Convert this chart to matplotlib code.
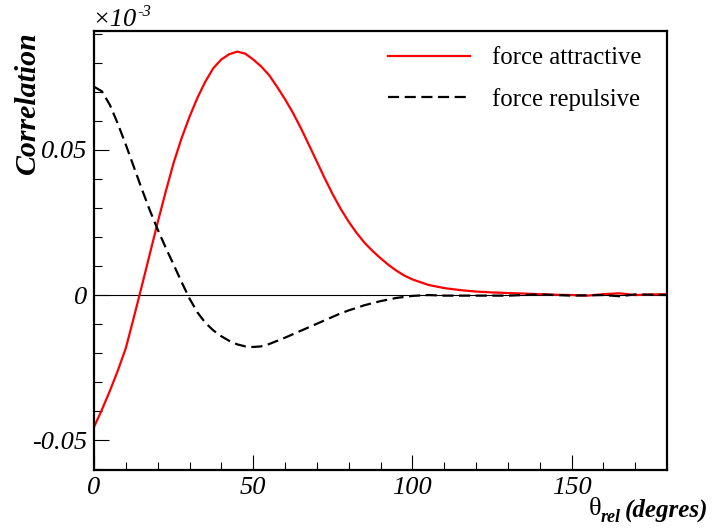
import matplotlib
matplotlib.use("Agg")
import matplotlib.pyplot as plt
from matplotlib.ticker import FixedLocator, MultipleLocator

plt.rcParams["font.family"] = ["Liberation Serif", "DejaVu Serif"]
plt.rcParams["axes.unicode_minus"] = False

# values (in units of 1e-3)
theta_att = [0, 2.5, 5, 7.5, 10, 12.5, 15, 17.5, 20, 22.5, 25, 27.5, 30, 32.5, 35,
             37.5, 40, 42.5, 45, 47.5, 50, 52.5, 55, 57.5, 60, 62.5, 65, 67.5, 70,
             72.5, 75, 77.5, 80, 82.5, 85, 87.5, 90, 92.5, 95, 97.5, 100, 105, 110,
             115, 120, 125, 130, 135, 140, 145, 150, 155, 160, 165, 170, 175, 180]
corr_att = [-0.0455, -0.0395, -0.033, -0.026, -0.0183, -0.0078, 0.003, 0.014,
            0.025, 0.0355, 0.0455, 0.054, 0.0614, 0.068, 0.0736, 0.0782, 0.0812,
            0.083, 0.0839, 0.0832, 0.0812, 0.0788, 0.0758, 0.0718, 0.0675, 0.0628,
            0.0575, 0.0518, 0.046, 0.0402, 0.0347, 0.0297, 0.0253, 0.0214, 0.018,
            0.0152, 0.0127, 0.0104, 0.0084, 0.0067, 0.0054, 0.0035, 0.0024, 0.0017,
            0.0012, 0.0009, 0.0007, 0.0005, 0.0003, 0.0001, 0.0, -0.0002, 0.0003,
            0.0006, 0.0, 0.0002, 0.0003]

theta_rep = [0, 2.5, 5, 7.5, 10, 12.5, 15, 17.5, 20, 22.5, 25, 27.5, 30, 32.5, 35,
             37.5, 40, 42.5, 45, 47.5, 50, 52.5, 55, 57.5, 60, 62.5, 65, 67.5, 70,
             72.5, 75, 77.5, 80, 85, 90, 95, 100, 105, 110, 120, 130, 140, 150, 160,
             165, 170, 180]
corr_rep = [0.0718, 0.0702, 0.0655, 0.059, 0.0518, 0.0442, 0.0366, 0.0293, 0.0226,
            0.0164, 0.0105, 0.0045, -0.0012, -0.006, -0.0096, -0.0122, -0.0142,
            -0.0158, -0.017, -0.0177, -0.0179, -0.0177, -0.0169, -0.0158, -0.0147,
            -0.0135, -0.0123, -0.0111, -0.0099, -0.0087, -0.0075, -0.0063, -0.0053,
            -0.0035, -0.0021, -0.001, -0.0003, 0.0, -0.0002, -0.0002, -0.0002,
            0.0002, -0.0002, 0.0, -0.0004, 0.0002, 0.0]

xticks = [0, 50, 100, 150]
xticklabels = ["0", "50", "100", "150"]
yticks = [-0.05, 0, 0.05]
yticklabels = ["-0.05", "0", "0.05"]

W, H = 713, 530
fig = plt.figure(figsize=(W / 100, H / 100), dpi=100)
ax = fig.add_axes([94 / W, 1 - 470 / H, (667 - 94) / W, (470 - 31) / H])

ax.axhline(0, color="black", lw=0.8)
ax.plot(theta_att, corr_att, color="red", lw=1.6, label="force attractive")
ax.plot(theta_rep, corr_rep, color="black", lw=1.6, dashes=(5, 2.5),
        label="force repulsive")

ax.set_xlim(0, 180)
ax.set_ylim(-0.0603, 0.091)

ax.xaxis.set_major_locator(FixedLocator(xticks))
ax.set_xticklabels(xticklabels)
ax.xaxis.set_minor_locator(MultipleLocator(10))
ax.yaxis.set_major_locator(FixedLocator(yticks))
ax.set_yticklabels(yticklabels)
ax.yaxis.set_minor_locator(MultipleLocator(0.01))

ax.tick_params(which="both", direction="in", width=0.8, top=False, right=False,
               labelsize=19)
ax.tick_params(which="major", length=11, pad=5)
ax.tick_params(which="minor", length=6)
for lab in ax.get_xticklabels() + ax.get_yticklabels():
    lab.set_fontstyle("italic")
for s in ax.spines.values():
    s.set_linewidth(1.6)

ax.legend(loc="upper left", bbox_to_anchor=((388 - 94) / 573, (470 - 47) / 439),
          frameon=False, fontsize=17.8, handlelength=3.3, handletextpad=0.9,
          labelspacing=0.75, borderpad=0, borderaxespad=0)

# y label and exponent
fig.text(27 / W, 1 - 31 / H, "Correlation", rotation=90, ha="center", va="top",
         fontsize=21.5, fontweight="bold", fontstyle="italic")
fig.text(92 / W, 1 - 20 / H, "×10", ha="left", va="center", fontsize=19,
         fontstyle="italic")
fig.text(137 / W, 1 - 12 / H, "-3", ha="left", va="center", fontsize=12,
         fontstyle="italic")

# x label
fig.text(708 / W, 1 - 510 / H, "(degres)", ha="right", va="center", fontsize=18,
         fontweight="bold", fontstyle="italic")
fig.text(601 / W, 1 - 518 / H, "rel", ha="left", va="center", fontsize=13,
         fontweight="bold", fontstyle="italic")
fig.text(601 / W, 1 - 509 / H, "θ", ha="right", va="center", fontsize=19)

fig.savefig("out.png", dpi=100)
